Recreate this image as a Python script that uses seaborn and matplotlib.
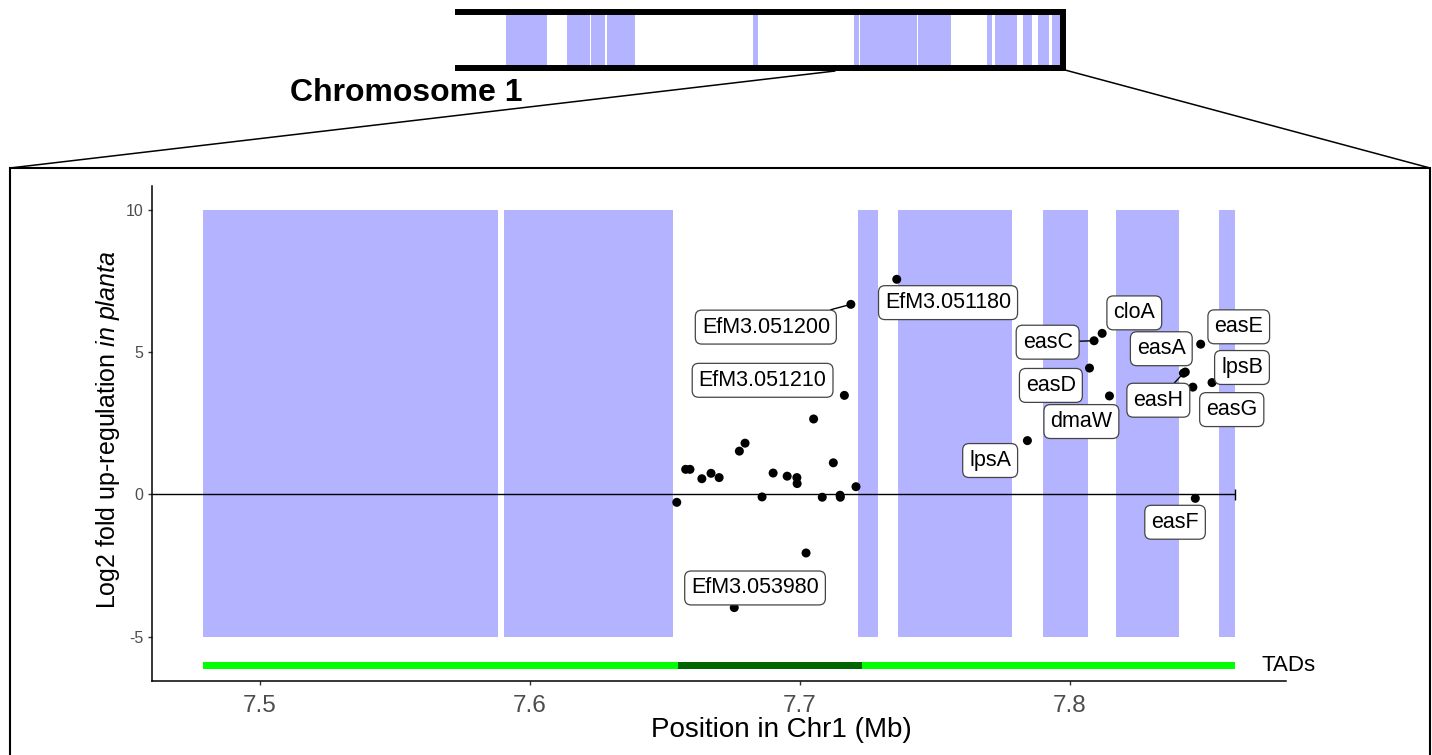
import numpy as np
import pandas as pd
import matplotlib
matplotlib.use("Agg")
import matplotlib.pyplot as plt
import seaborn as sns

# ---------------- data ----------------
# highlighted regions in the zoomed window (Mb)
region_start = [7.4789, 7.5904, 7.7216, 7.7364, 7.7901, 7.8172, 7.8553]
region_end = [7.5882, 7.6530, 7.7290, 7.7786, 7.8068, 7.8405, 7.8612]
region_low, region_high = -5, 10

# TAD domains along the window (Mb)
tad_start = [7.4789, 7.6549, 7.7230]
tad_end = [7.6549, 7.7230, 7.8612]
tad_kind = ["light", "dark", "light"]
tad_level = -6.02

# genes: position (Mb), log2 fold change, name ('' = unlabelled)
gene_pos = [7.6544, 7.6577, 7.6593, 7.6637, 7.6671, 7.6701, 7.6776, 7.6797,
            7.6757, 7.6860, 7.6901, 7.6953, 7.6989, 7.6990, 7.7023, 7.7051,
            7.7083, 7.7124, 7.7149, 7.7150, 7.7165, 7.7208, 7.7189, 7.7359,
            7.8090, 7.8120, 7.8073, 7.8147, 7.7843, 7.8485, 7.8421, 7.8428,
            7.8456, 7.8527, 7.8465]
gene_lfc = [-0.28, 0.88, 0.88, 0.55, 0.74, 0.59, 1.52, 1.80,
            -3.98, -0.09, 0.75, 0.64, 0.59, 0.38, -2.06, 2.65,
            -0.10, 1.11, -0.03, -0.10, 3.48, 0.27, 6.68, 7.56,
            5.40, 5.66, 4.44, 3.46, 1.89, 5.28, 4.26, 4.30,
            3.77, 3.93, -0.14]
gene_name = ["", "", "", "", "", "", "", "",
             "EfM3.053980", "", "", "", "", "", "", "",
             "", "", "", "", "EfM3.051210", "", "EfM3.051200", "EfM3.051180",
             "easC", "cloA", "easD", "dmaW", "lpsA", "easE", "easH", "easA",
             "easG", "lpsB", "easF"]

# label placement (repelled label centres)
label_pos = {
    "EfM3.051200": (7.6874, 5.88), "EfM3.051180": (7.7549, 6.74),
    "EfM3.051210": (7.6862, 4.01), "EfM3.053980": (7.6834, -3.29),
    "cloA": (7.8239, 6.38), "easC": (7.7918, 5.35), "easE": (7.8626, 5.89),
    "easA": (7.8339, 5.12), "lpsB": (7.8638, 4.46), "easD": (7.7930, 3.83),
    "easH": (7.8328, 3.31), "easG": (7.8600, 2.98), "dmaW": (7.8043, 2.56),
    "lpsA": (7.7705, 1.19), "easF": (7.8390, -0.98),
}
segment_labels = ["EfM3.051200", "easC", "easH"]

# chromosome overview blocks (Mb along chromosome)
chrom_length = 10.0
chrom_start = [0.847, 1.842, 2.237, 2.492, 4.901, 6.562, 6.661, 7.615,
               8.755, 8.887, 9.347, 9.584, 9.814]
chrom_end = [1.513, 2.220, 2.467, 2.961, 4.984, 6.645, 7.599, 8.158,
             8.827, 9.238, 9.485, 9.775, 9.951]
zoom_anchor = 6.25

# ---------------- style ----------------
sns.set_theme(style="ticks")
plt.rcParams["font.family"] = ["Liberation Sans", "DejaVu Sans"]
plt.rcParams["mathtext.fontset"] = "custom"
plt.rcParams["mathtext.rm"] = "Liberation Sans"
plt.rcParams["mathtext.it"] = "Liberation Sans:italic"
plt.rcParams["axes.unicode_minus"] = False
plt.rcParams["text.color"] = "black"
plt.rcParams["axes.labelcolor"] = "black"

BLUE = "#B3B3FF"
tad_colors = {"light": "#00FF00", "dark": "#006400"}

W, H = 1432, 755
fig = plt.figure(figsize=(W / 100, H / 100), dpi=100)

# overlay for zoom connector lines and panel box
over = fig.add_axes([0, 0, 1, 1], zorder=0)
over.set_xlim(0, W)
over.set_ylim(H, 0)
over.axis("off")
over.patch.set_alpha(0)

# ---------------- main panel ----------------
ax = fig.add_axes([152 / W, 1 - 681 / H, 1134 / W, 495 / H], zorder=2)
ax.patch.set_alpha(0)

rs = np.array(region_start)
re_ = np.array(region_end)
ax.bar(rs, region_high - region_low, width=re_ - rs, bottom=region_low,
       align="edge", color=BLUE, linewidth=0, zorder=1)

ts = np.array(tad_start)
te = np.array(tad_end)
ax.bar(ts, 0.27, width=te - ts, bottom=tad_level - 0.135, align="edge",
       color=[tad_colors[k] for k in tad_kind], linewidth=0, zorder=1)

xmin, xmax = 7.46, 7.8801
ax.hlines(0, xmin, max(region_end), color="black", lw=1.0, zorder=2)
ax.vlines(max(region_end), -0.2, 0.2, color="black", lw=1.0, zorder=2)

df = pd.DataFrame({"pos": gene_pos, "lfc": gene_lfc, "name": gene_name})
sns.scatterplot(data=df, x="pos", y="lfc", color="black", s=42,
                edgecolor="none", ax=ax, zorder=3, legend=False)

for _, r in df[df["name"] != ""].iterrows():
    lx, ly = label_pos[r["name"]]
    arrow = None
    if r["name"] in segment_labels:
        arrow = dict(arrowstyle="-", color="black", lw=1.0,
                     shrinkA=0, shrinkB=3)
    ax.annotate(r["name"], xy=(r["pos"], r["lfc"]), xytext=(lx, ly),
                textcoords="data", ha="center", va="center", fontsize=15.5,
                color="black", zorder=4, annotation_clip=False,
                bbox=dict(boxstyle="round,pad=0.3,rounding_size=0.3",
                          fc="white", ec="#444444", lw=0.9),
                arrowprops=arrow)

ax.text(7.8712, tad_level, "TADs", fontsize=16, ha="left", va="center",
        color="black", clip_on=False)

ax.set_xlim(xmin, xmax)
ax.set_ylim(-6.56, 10.84)
ax.set_xticks([7.5, 7.6, 7.7, 7.8])
ax.set_xticklabels(["7.5", "7.6", "7.7", "7.8"])
ax.set_yticks([-5, 0, 5, 10])
ax.set_yticklabels(["-5", "0", "5", "10"])
ax.tick_params(axis="x", labelsize=17.5, labelcolor="#4D4D4D",
               color="#333333", length=3, width=1, pad=7, bottom=True)
ax.tick_params(axis="y", labelsize=11.5, labelcolor="#4D4D4D",
               color="#333333", length=3, width=1, pad=3, left=True)
for s in ["top", "right"]:
    ax.spines[s].set_visible(False)
for s in ["left", "bottom"]:
    ax.spines[s].set_color("black")
    ax.spines[s].set_linewidth(1.1)

ax.set_xlabel("Position in Chr1 (Mb)", fontsize=20, color="black")
ax.set_ylabel(r"Log2 fold up-regulation $\mathit{in\ planta}$",
              fontsize=18, color="black")
ax.xaxis.set_label_coords(0.5547, -0.072)
ax.yaxis.set_label_coords(-0.0265, 0.507)

# ---------------- chromosome overview ----------------
cax = fig.add_axes([455 / W, 1 - 68 / H, 608 / W, 56 / H], zorder=3)
cs = np.array(chrom_start)
ce = np.array(chrom_end)
cax.bar(cs, 1, width=ce - cs, bottom=0, align="edge", color=BLUE,
        linewidth=0)
cax.plot([0, chrom_length, chrom_length, 0], [1, 1, 0, 0], color="black",
         lw=4.3, solid_joinstyle="miter", solid_capstyle="butt",
         clip_on=False)
cax.set_xlim(0, chrom_length)
cax.set_ylim(0, 1)
cax.axis("off")

fig.text(290 / W, 1 - 93 / H, "Chromosome 1", fontsize=23,
         fontweight="bold", ha="left", va="center", color="black")

# zoom connectors + panel frame
ax0 = 455 + zoom_anchor * 60.8
over.plot([ax0, 10], [71, 168], color="black", lw=1.1)
over.plot([1065, 1430], [70, 168], color="black", lw=1.1)
over.plot([10, 10, 1430, 1430], [760, 168, 168, 760], color="black",
          lw=1.5, solid_joinstyle="miter", clip_on=False)

fig.savefig("out.png", dpi=100)
